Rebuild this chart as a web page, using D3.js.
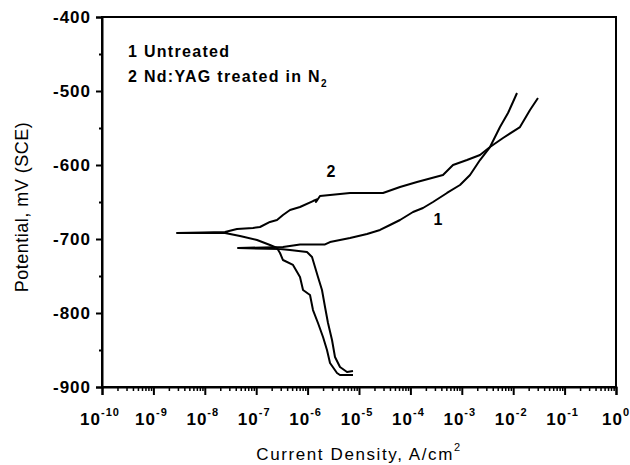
<!DOCTYPE html>
<html><head><meta charset="utf-8">
<script src="https://cdn.jsdelivr.net/npm/d3@7/dist/d3.min.js"></script>
<style>
body{margin:0;background:#fff;}
svg text{font-family:"Liberation Sans",Arial,sans-serif;fill:#000;}
</style></head>
<body><svg id="c" width="630" height="465"></svg>
<script>
// ---- data (log10 of current density, A/cm^2 ; potential mV vs SCE) ----
const untreatedLogI = [-5.117,-5.233,-5.370,-5.467,-5.525,-5.603,-5.661,-5.720,-5.798,-5.856,-5.914,-6.012,-6.342,-6.537,-7.354,-6.479,-6.148,-5.661,-5.564,-5.175,-4.844,-4.591,-4.397,-4.202,-3.949,-3.755,-3.560,-3.288,-3.035,-2.840,-2.646,-2.451,-2.315,-2.257,-2.101,-2.004,-1.926];
const untreatedE    = [-878.4,-879.7,-873.0,-859.5,-836.5,-813.5,-791.9,-768.9,-751.4,-737.8,-724.3,-717.6,-714.9,-713.5,-712.2,-710.8,-707.4,-707.4,-704.1,-698.7,-693.2,-687.8,-681.1,-674.3,-663.5,-658.1,-650.0,-637.8,-627.0,-613.5,-593.3,-575.7,-556.8,-548.7,-529.7,-514.9,-502.7];
const treatedLogI = [-5.117,-5.370,-5.428,-5.564,-5.623,-5.700,-5.798,-5.895,-5.953,-6.089,-6.148,-6.284,-6.479,-6.537,-6.595,-6.732,-6.984,-7.315,-7.607,-8.541,-8.035,-7.607,-7.374,-7.062,-6.926,-6.732,-6.595,-6.479,-6.342,-6.148,-5.895,-5.798,-5.837,-5.759,-5.175,-4.533,-4.202,-3.872,-3.366,-3.171,-2.899,-2.646,-2.451,-2.198,-1.868,-1.673,-1.518];
const treatedE    = [-883.8,-883.8,-881.1,-867.6,-850.0,-832.4,-813.5,-796.0,-775.7,-768.9,-751.4,-735.1,-728.4,-718.9,-712.2,-708.1,-701.4,-696.0,-691.9,-691.9,-691.2,-690.5,-686.5,-685.1,-683.8,-677.0,-674.3,-667.6,-660.8,-656.8,-648.7,-646.0,-650.0,-641.9,-637.8,-637.8,-629.7,-623.0,-613.5,-600.0,-593.3,-586.5,-575.7,-563.5,-548.7,-525.7,-509.5];
const xTickExponents = ["-10","-9","-8","-7","-6","-5","-4","-3","-2","-1","0"];
const yTicks = [-400,-500,-600,-700,-800,-900];
const yMinorTicks = [-450,-550,-650,-750,-850];
const legendLines = ["1 Untreated","2 Nd:YAG treated in N"];
const curveLabels = [{t:"2", i:-5.545, e:-616}, {t:"1", i:-3.463, e:-681}];

const svg = d3.select("#c");
const L=102, R=616, T=17, B=387;
const x = d3.scaleLog().domain([1e-10,1]).range([L,R]);
const y = d3.scaleLinear().domain([-900,-400]).range([B,T]);

// frame
svg.append("rect").attr("x",L).attr("y",T).attr("width",R-L).attr("height",B-T)
  .attr("fill","none").attr("stroke","#000").attr("stroke-width",2);

// y axis
const gy = svg.append("g").attr("transform",`translate(${L},0)`);
gy.call(d3.axisLeft(y).tickValues(yTicks).tickSize(6).tickFormat(d=>d));
gy.select(".domain").attr("stroke-width",2);
gy.selectAll(".tick line").attr("stroke-width",2);
gy.selectAll(".tick text").attr("x",-11).attr("font-size",17).attr("letter-spacing",1).attr("font-weight","bold").attr("fill","#000");
const gym = svg.append("g").attr("transform",`translate(${L},0)`);
gym.call(d3.axisLeft(y).tickValues(yMinorTicks).tickSize(3).tickFormat(""));
gym.select(".domain").remove();
gym.selectAll(".tick line").attr("stroke-width",2);

// x axis
const majorVals = xTickExponents.map(e=>Math.pow(10,+e));
const minorVals = [];
for (let p=-10;p<0;p++) for (let k=2;k<=9;k++) minorVals.push(k*Math.pow(10,p));
const gx = svg.append("g").attr("transform",`translate(0,${B})`);
gx.call(d3.axisBottom(x).tickValues(majorVals).tickSize(8).tickFormat(""));
gx.select(".domain").attr("stroke-width",2);
gx.selectAll(".tick line").attr("stroke-width",2);
const gxm = svg.append("g").attr("transform",`translate(0,${B})`);
gxm.call(d3.axisBottom(x).tickValues(minorVals).tickSize(4).tickFormat(""));
gxm.select(".domain").remove();
gxm.selectAll(".tick line").attr("stroke-width",1.5);

const xl = svg.append("g").selectAll("text").data(xTickExponents).join("text")
  .attr("x",d=>x(Math.pow(10,+d))+ (d.length>1?-2:0)).attr("y",425)
  .attr("text-anchor","middle").attr("font-size",17).attr("font-weight","bold").attr("letter-spacing",1);
xl.append("tspan").text("10");
xl.append("tspan").attr("font-size",11).attr("dy",-9).text(d=>d);

// axis titles
svg.append("text").attr("x",359).attr("y",460).attr("text-anchor","middle")
  .attr("font-size",17).attr("letter-spacing",1.6)
  .call(t=>{t.append("tspan").text("Current Density, A/cm");t.append("tspan").attr("font-size",11).attr("dy",-9).text("2");});
svg.append("text").attr("transform","translate(28,207) rotate(-90)").attr("text-anchor","middle")
  .attr("font-size",18).attr("letter-spacing",0.5).text("Potential, mV (SCE)");

// legend
svg.append("g").selectAll("text").data(legendLines).join("text")
  .attr("x",128).attr("y",(d,i)=>57+i*25).attr("font-size",16).attr("font-weight","bold").attr("letter-spacing",1.3)
  .each(function(d,i){const t=d3.select(this);t.append("tspan").text(d);
    if(i===1) t.append("tspan").attr("font-size",10).attr("dy",5).text("2");});

// curves
const line = d3.line().x(d=>x(Math.pow(10,d[0]))).y(d=>y(d[1]));
const series = [d3.zip(untreatedLogI,untreatedE), d3.zip(treatedLogI,treatedE)];
svg.append("g").selectAll("path").data(series).join("path")
  .attr("d",line).attr("fill","none").attr("stroke","#000").attr("stroke-width",2).attr("stroke-linejoin","round");

// curve labels
svg.append("g").selectAll("text").data(curveLabels).join("text")
  .attr("x",d=>x(Math.pow(10,d.i))).attr("y",d=>y(d.e)).attr("text-anchor","middle")
  .attr("font-size",16).attr("font-weight","bold").text(d=>d.t);
</script></body></html>
